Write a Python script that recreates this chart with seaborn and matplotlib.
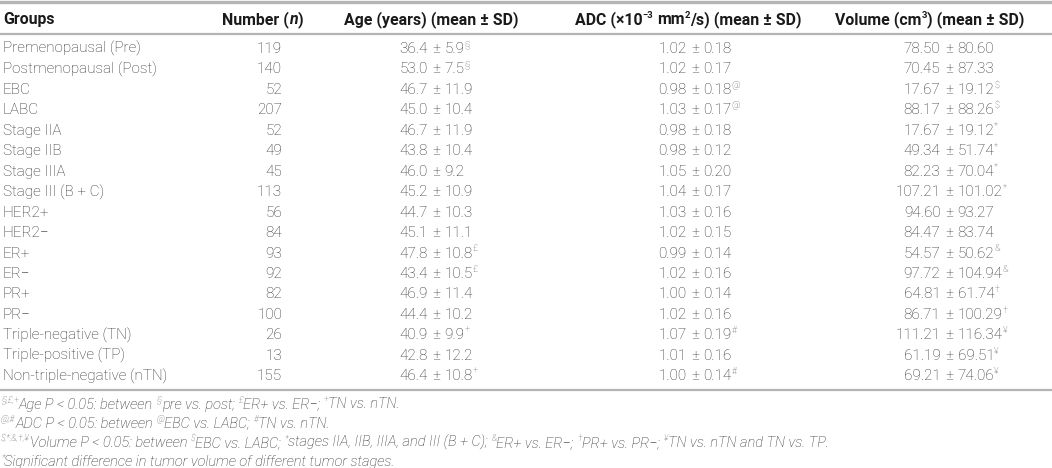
import matplotlib
matplotlib.use("Agg")
import matplotlib.pyplot as plt
import seaborn as sns

groups = ["Premenopausal (Pre)", "Postmenopausal (Post)", "EBC", "LABC", "Stage IIA", "Stage IIB",
          "Stage IIIA", "Stage III (B + C)", "HER2+", "HER2\u2212", "ER+", "ER\u2212", "PR+", "PR\u2212",
          "Triple-negative (TN)", "Triple-positive (TP)", "Non-triple-negative (nTN)"]
numbers = [119, 140, 52, 207, 52, 49, 45, 113, 56, 84, 93, 92, 82, 100, 26, 13, 155]
age_mean = [36.4, 53.0, 46.7, 45.0, 46.7, 43.8, 46.0, 45.2, 44.7, 45.1, 47.8, 43.4, 46.9, 44.4, 40.9, 42.8, 46.4]
age_sd = [5.9, 7.5, 11.9, 10.4, 11.9, 10.4, 9.2, 10.9, 10.3, 11.1, 10.8, 10.5, 11.4, 10.2, 9.9, 12.2, 10.8]
age_mark = ["§", "§", "", "", "", "", "", "", "", "", "£", "£", "", "", "+", "", "+"]
adc_mean = [1.02, 1.02, 0.98, 1.03, 0.98, 0.98, 1.05, 1.04, 1.03, 1.02, 0.99, 1.02, 1.00, 1.02, 1.07, 1.01, 1.00]
adc_sd = [0.18, 0.17, 0.18, 0.17, 0.18, 0.12, 0.20, 0.17, 0.16, 0.15, 0.14, 0.16, 0.14, 0.16, 0.19, 0.16, 0.14]
adc_mark = ["", "", "@", "@", "", "", "", "", "", "", "", "", "", "", "#", "", "#"]
vol_mean = [78.50, 70.45, 17.67, 88.17, 17.67, 49.34, 82.23, 107.21, 94.60, 84.47, 54.57, 97.72, 64.81, 86.71,
            111.21, 61.19, 69.21]
vol_sd = [80.60, 87.33, 19.12, 88.26, 19.12, 51.74, 70.04, 101.02, 93.27, 83.74, 50.62, 104.94, 61.74, 100.29,
          116.34, 69.51, 74.06]
vol_mark = ["", "", "$", "$", "*", "*", "*", "*", "", "", "&", "&", "†", "†", "¥", "¥", "¥"]

# header runs: (text, superscript, italic)
headers = [
    [("Groups", False, False)],
    [("Number (", False, False), ("n", False, True), (")", False, False)],
    [("Age (years) (mean ± SD)", False, False)],
    [("ADC (×10", False, False), ("\u22123", True, False), (" mm", False, False), ("2", True, False),
     ("/s) (mean ± SD)", False, False)],
    [("Volume (cm", False, False), ("3", True, False), (") (mean ± SD)", False, False)],
]
footnotes = [
    [("§,£,+", True), ("Age P < 0.05: between ", False), ("§", True), ("pre vs. post; ", False),
     ("£", True), ("ER+ vs. ER\u2212; ", False), ("+", True), ("TN vs. nTN.", False)],
    [("@,#", True), ("ADC P < 0.05: between ", False), ("@", True), ("EBC vs. LABC; ", False),
     ("#", True), ("TN vs. nTN.", False)],
    [("$,*,&,†,¥", True), ("Volume P < 0.05: between ", False), ("$", True), ("EBC vs. LABC; ", False),
     ("*", True), ("stages IIA, IIB, IIIA, and III (B + C); ", False), ("&", True),
     ("ER+ vs. ER\u2212; ", False), ("†", True), ("PR+ vs. PR\u2212; ", False), ("¥", True),
     ("TN vs. nTN and TN vs. TP.", False)],
    [("*", True), ("Significant difference in tumor volume of different tumor stages.", False)],
]

sns.set_theme(style="white")
plt.rcParams["font.family"] = ["Roboto", "DejaVu Sans"]

W, H = 1052, 468
fig = plt.figure(figsize=(W / 100, H / 100), dpi=100)
ax = fig.add_axes([0, 0, 1, 1])
ax.set_xlim(0, W)
ax.set_ylim(H, 0)
ax.axis("off")
fig.canvas.draw()
renderer = fig.canvas.get_renderer()

BODY = 11.0
HEAD = 11.4
FOOT = 10.5
body_col = "#2e2e2e"
sup_col = "#555555"
head_col = "#1a1a1a"
rule_col = "#b4b4b4"

_space = {}


def text_w(t):
    return t.get_window_extent(renderer).width


def space_w(fs, weight, style):
    key = (fs, weight, style)
    if key not in _space:
        a = ax.text(0, 0, "x x", fontsize=fs, fontweight=weight, fontstyle=style)
        b = ax.text(0, 0, "xx", fontsize=fs, fontweight=weight, fontstyle=style)
        _space[key] = text_w(a) - text_w(b)
        a.remove()
        b.remove()
    return _space[key]


def draw_runs(x, y, runs, fs, weight="light", style="normal", color=body_col, center=False, scol=sup_col):
    objs = []
    x0 = x
    for run in runs:
        s, sup = run[0], run[1]
        st = "italic" if (len(run) > 2 and run[2]) else style
        f = fs * 0.6 if sup else fs
        yy = y - fs * 1.389 * 0.4 if sup else y
        lead = len(s) - len(s.lstrip(" "))
        trail = len(s) - len(s.rstrip(" "))
        x += lead * space_w(f, weight, st)
        t = ax.text(x, yy, s.strip(" "), fontsize=f, fontweight=weight, fontstyle=st,
                    color=(scol if sup else color), ha="left", va="baseline", parse_math=False)
        x += text_w(t) + trail * space_w(f, weight, st)
        objs.append(t)
    if center:
        dx = -(x - x0) / 2
        for t in objs:
            t.set_x(t.get_position()[0] + dx)
    return x


# rules
ax.axhline(1.5, color=rule_col, lw=2.4)
ax.axhline(34, color=rule_col, lw=1.6)
ax.axhline(390, color=rule_col, lw=1.6)

# header
head_x = [3, 263, 431, 688, 930]
for i, runs in enumerate(headers):
    draw_runs(head_x[i], 24, runs, HEAD, weight="bold", color=head_col, center=(i > 0), scol=head_col)

# body
pm_x = [436, 695, 949]
pm_probe = ax.text(0, 0, "±", fontsize=BODY, fontweight="light")
pmw = text_w(pm_probe)
pm_probe.remove()
sp = space_w(BODY, "light", "normal") * 1.25

cols = [(age_mean, age_sd, age_mark, "{:.1f}"), (adc_mean, adc_sd, adc_mark, "{:.2f}"),
        (vol_mean, vol_sd, vol_mark, "{:.2f}")]
for r in range(len(groups)):
    yb = 47.5 + 20.45 * r + 5.5
    ax.text(3, yb, groups[r], fontsize=BODY, fontweight="light", color=body_col, va="baseline")
    ax.text(282, yb, str(numbers[r]), fontsize=BODY, fontweight="light", color=body_col,
            ha="right", va="baseline")
    for c, (mean, sd, mark, fmt) in enumerate(cols):
        px = pm_x[c]
        ax.text(px - pmw / 2 - sp, yb, fmt.format(mean[r]), fontsize=BODY, fontweight="light",
                color=body_col, ha="right", va="baseline")
        ax.text(px, yb, "±", fontsize=BODY, fontweight="light", color=body_col, ha="center", va="baseline")
        runs = [(fmt.format(sd[r]), False)]
        if mark[r]:
            runs.append((mark[r], True))
        draw_runs(px + pmw / 2 + sp, yb, runs, BODY)

# footnotes
for i, runs in enumerate(footnotes):
    draw_runs(1, 403.5 + 19.2 * i + 5, runs, FOOT, style="italic")

fig.savefig("out.png", dpi=100)
